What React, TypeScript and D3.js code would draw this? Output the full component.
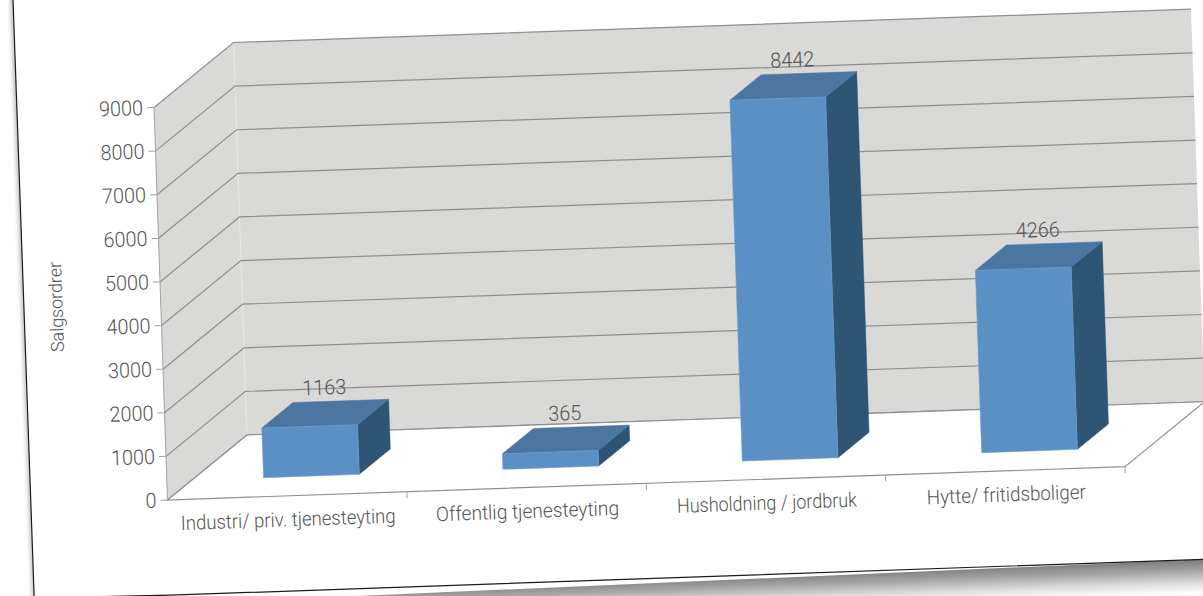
import React from "react";
import * as d3 from "d3";

const categories = ["Industri/ priv. tjenesteyting", "Offentlig tjenesteyting", "Husholdning / jordbruk", "Hytte/ fritidsboliger"];
const salesOrders = [1163, 365, 8442, 4266];
const valueTicks = [0, 1000, 2000, 3000, 4000, 5000, 6000, 7000, 8000, 9000];
const axisTitle = "Salgsordrer";

const W = 1203, H = 596;
const FONT = "Roboto, Lato, sans-serif";
const TEXT = "#545454";
const LINE = "#8e8e8e";
const LABEL_WIDTHS = [215, 183, 180, 159];
const DIGIT_W = 11;

const ORIGIN: [number, number] = [167.5, 500];
const xU: [number, number] = [957.5, -33.3];
const vU: [number, number] = [-13.5, -392.5];
const zU: [number, number] = [79.5, -65];

const band = d3.scaleBand<string>().domain(categories).range([0, 1]).paddingInner(0.6).paddingOuter(0.3);
const step = d3.scaleLinear().domain([0, categories.length]).range([0, 1]);
const val = d3.scaleLinear().domain([0, 9000]).range([0, 1]);
const barVal = d3.scaleLinear().domain([0, 9000]).range([0, 0.98]);
const depth = d3.scaleLinear().domain([0, 1]).range([0, 1]);

type P = [number, number];
const proj = (x: number, v: number, z: number): P => [
  ORIGIN[0] + x * xU[0] + v * vU[0] + z * zU[0],
  ORIGIN[1] + x * xU[1] + v * vU[1] + z * zU[1],
];
const line = d3.line<P>();
const poly = (pts: P[]) => line(pts) + "Z";
const BAR_Z0 = depth(0.305), BAR_Z1 = depth(0.695);

const paper: P[] = [[13, 0], [34.6, 610], [1203, 559.3], [1203, -20], [13, -20]];
const paperEdge: P[] = [[13, -1], [34.2, 598], [170, 595.2], [1203, 559.3]];
const shadowBand: P[] = [[90, 598], [1203, 559.3], [1203, 610], [90, 650]];

const digits = (n: number) => String(n).length * DIGIT_W;

export default function App() {
  return (
    <svg width={W} height={H} viewBox={`0 0 ${W} ${H}`} style={{ position: "absolute", left: 0, top: 0, display: "block", background: "#fff" }}>
      <defs>
        <filter id="shadowL" x="-10%" y="-10%" width="120%" height="120%">
          <feGaussianBlur stdDeviation="2.5" />
        </filter>
        <linearGradient id="bottomShadow" gradientUnits="userSpaceOnUse" x1="686" y1="577" x2="687.2" y2="611">
          <stop offset="0" stopColor="#7a7a7a" />
          <stop offset="0.35" stopColor="#a6a6a6" />
          <stop offset="0.7" stopColor="#dcdcdc" />
          <stop offset="1" stopColor="#ffffff" />
        </linearGradient>
        <clipPath id="frame"><rect width={W} height={H} /></clipPath>
      </defs>
      <g clipPath="url(#frame)">
        <path d={poly(shadowBand)} fill="url(#bottomShadow)" />
        <path d={poly([[11, -5], [33, 600], [38, 600], [16, -5]])} fill="#000" opacity={0.35} filter="url(#shadowL)" />
        <path d={poly(paper)} fill="#fff" />
        <path d={line(paperEdge)!} fill="none" stroke="#1c1c1c" strokeWidth={1.2} />

        <path d={poly([proj(0, 0, 0), proj(0, 1, 0), proj(0, 1, 1), proj(0, 0, 1)])} fill="#d9d9d7" />
        <path d={poly([proj(0, 0, 1), proj(0, 1, 1), proj(1, 1, 1), proj(1, 0, 1)])} fill="#d9d9d7" />
        <path d={line([proj(0, 0, 1), proj(0, 1, 1)])!} stroke="#e6e6e4" strokeWidth={1} />

        {valueTicks.map((t) => (
          <path key={t} d={line([proj(0, val(t), 0), proj(0, val(t), 1), proj(1, val(t), 1)])!} fill="none" stroke={LINE} strokeWidth={1.2} />
        ))}
        <path d={poly([proj(0, 0, 0), proj(1, 0, 0), proj(1, 0, 1), proj(0, 0, 1)])} fill="#fff" />
        <path d={line([proj(0, 0, 1), proj(0, 0, 0), proj(1, 0, 0), proj(1, 0, 1)])!} fill="none" stroke={LINE} strokeWidth={1.2} />
        <path d={line([proj(0, 0, 1), proj(1, 0, 1)])!} fill="none" stroke={LINE} strokeWidth={1.2} />

        <path d={line([proj(0, 0, 0), proj(0, 1, 0)])!} stroke="#a3a3a3" strokeWidth={1} />
        {valueTicks.map((t) => {
          const [x, y] = proj(0, val(t), 0);
          return (
            <g key={t}>
              <path d={line([[x - 7, y + 0.2], [x, y]])!} stroke="#a3a3a3" strokeWidth={1} />
              <text x={x - 11} y={y + 0.5} textAnchor="end" dominantBaseline="central" fontFamily={FONT} fontWeight={300} fontSize={21} fill={TEXT} textLength={digits(t)} lengthAdjust="spacingAndGlyphs" transform={`rotate(-2 ${x - 11} ${y})`}>{t}</text>
            </g>
          );
        })}
        {categories.map((_, i) => {
          const [x, y] = proj(step(i + 1), 0, 0);
          return <path key={i} d={line([[x, y], [x + 0.2, y + 6.5]])!} stroke="#a3a3a3" strokeWidth={1} />;
        })}

        {categories.map((c, i) => {
          const x0 = band(c)!, x1 = x0 + band.bandwidth();
          const v = barVal(salesOrders[i]);
          const [lx, ly] = proj((x0 + x1) / 2, v, 0.5);
          return (
            <g key={c}>
              <path d={poly([proj(x1, 0, BAR_Z0), proj(x1, v, BAR_Z0), proj(x1, v, BAR_Z1), proj(x1, 0, BAR_Z1)])} fill="#2f5574" stroke="#2f5574" strokeWidth={0.5} />
              <path d={poly([proj(x0, v, BAR_Z0), proj(x1, v, BAR_Z0), proj(x1, v, BAR_Z1), proj(x0, v, BAR_Z1)])} fill="#4a76a1" stroke="#4a76a1" strokeWidth={0.5} />
              <path d={poly([proj(x0, 0, BAR_Z0), proj(x1, 0, BAR_Z0), proj(x1, v, BAR_Z0), proj(x0, v, BAR_Z0)])} fill="#5b90c4" stroke="#6c9ccb" strokeWidth={0.6} />
              <text x={lx - 1} y={ly - 26} textAnchor="middle" dominantBaseline="central" fontFamily={FONT} fontWeight={300} fontSize={21} fill={TEXT} textLength={digits(salesOrders[i])} lengthAdjust="spacingAndGlyphs" transform={`rotate(-2 ${lx - 1} ${ly - 26})`}>{salesOrders[i]}</text>
            </g>
          );
        })}

        {categories.map((c, i) => {
          const [x, y] = proj(band(c)! + band.bandwidth() / 2, 0, 0);
          return (
            <text key={c} x={x + 1} y={y + 23.5} textAnchor="middle" dominantBaseline="central" fontFamily={FONT} fontWeight={300} fontSize={20} fill={TEXT} textLength={LABEL_WIDTHS[i]} lengthAdjust="spacingAndGlyphs" transform={`rotate(-2 ${x + 1} ${y + 23.5})`}>{c}</text>
          );
        })}

        <text x={56} y={307} textAnchor="middle" dominantBaseline="central" fontFamily={FONT} fontWeight={300} fontSize={18} fill={TEXT} textLength={90} lengthAdjust="spacingAndGlyphs" transform="rotate(-92 56 307)">{axisTitle}</text>
      </g>
    </svg>
  );
}
